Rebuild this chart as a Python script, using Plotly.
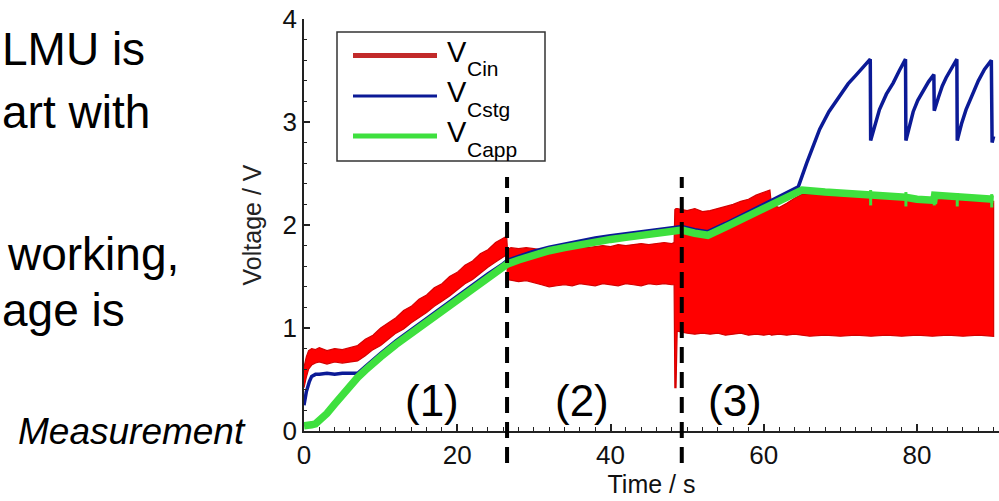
import plotly.graph_objects as go

# ---------------------------------------------------------------- data
# V_Cin : fast-switching input voltage, drawn as its upper / lower envelope
t_cin = [0, 0.3, 0.6, 1, 1.5, 2, 3, 4, 5, 6, 7, 8, 9, 10, 11, 12, 13, 14, 15, 16,
         17, 18, 19, 20, 21, 22, 23, 24, 25, 26, 26.45,
         26.55, 27, 28, 29, 30, 31, 32, 33, 34, 35, 36, 37, 38, 39, 40, 41, 42, 43,
         44, 45, 46, 47, 48, 48.3,
         48.4, 48.55, 48.7, 49.5, 50, 51, 52, 53, 54, 55, 56, 57, 58, 59, 60, 60.8,
         61, 62, 63, 64, 65, 66, 68, 70, 72, 74, 76, 78, 80, 82, 84, 86, 88, 90]
cin_hi = [0.62, 0.72, 0.78, 0.80, 0.79, 0.81, 0.78, 0.80, 0.79, 0.81, 0.83, 0.89, 0.93, 1.00, 1.05, 1.10, 1.17, 1.21, 1.28, 1.32,
          1.39, 1.43, 1.50, 1.54, 1.61, 1.65, 1.72, 1.76, 1.83, 1.87, 1.89,
          1.76, 1.78, 1.77, 1.78, 1.77, 1.76, 1.77, 1.78, 1.77, 1.78, 1.79, 1.78, 1.79, 1.80, 1.79, 1.81, 1.80, 1.81,
          1.82, 1.81, 1.82, 1.83, 1.82, 1.83,
          2.15, 2.16, 2.16, 2.15, 2.14, 2.16, 2.13, 2.14, 2.16, 2.18, 2.20, 2.23, 2.25, 2.29, 2.32, 2.34,
          2.20, 2.17, 2.21, 2.26, 2.30, 2.30, 2.29, 2.28, 2.28, 2.27, 2.27, 2.26, 2.23, 2.25, 2.25, 2.24, 2.23, 2.23]
cin_lo = [0.42, 0.52, 0.60, 0.64, 0.66, 0.67, 0.65, 0.67, 0.66, 0.67, 0.68, 0.73, 0.79, 0.83, 0.89, 0.95, 0.99, 1.05, 1.10, 1.15,
          1.21, 1.26, 1.31, 1.37, 1.43, 1.47, 1.53, 1.59, 1.64, 1.69, 1.71,
          1.47, 1.46, 1.45, 1.46, 1.44, 1.42, 1.40, 1.41, 1.42, 1.41, 1.43, 1.42, 1.41, 1.43, 1.42, 1.41, 1.43, 1.42,
          1.41, 1.43, 1.42, 1.43, 1.42, 1.42,
          0.42, 0.42, 0.97, 0.96, 0.95, 0.94, 0.95, 0.94, 0.95, 0.93, 0.94, 0.95, 0.93, 0.94, 0.93, 0.94,
          0.93, 0.94, 0.93, 0.94, 0.93, 0.92, 0.93, 0.92, 0.93, 0.92, 0.93, 0.92, 0.93, 0.92, 0.93, 0.92, 0.93, 0.92]

# V_Cstg : storage capacitor voltage
t_stg = [0, 0.3, 0.7, 1.0, 1.5, 2, 3, 4, 5, 6, 7, 8, 9, 10, 12, 14, 16, 18, 20, 22, 24, 26, 26.5,
         28, 30, 32, 34, 36, 38, 40, 42, 44, 46, 48, 49.3, 51, 52.7, 55, 58, 61, 64.5,
         65.6, 66.5, 67.3, 68.5, 69.9, 71.0, 72.1, 73.0, 73.9,
         73.95, 74.5, 75.1, 76.0, 76.9, 77.7, 78.5,
         78.55, 79.0, 79.5, 80.1, 80.8, 81.5, 82.2,
         82.25, 82.8, 83.3, 83.8, 84.3, 84.8, 85.2,
         85.25, 85.8, 86.4, 87.2, 88.0, 88.8, 89.7,
         89.8, 90]
v_stg = [0.25, 0.38, 0.48, 0.53, 0.55, 0.55, 0.56, 0.55, 0.56, 0.56, 0.56, 0.625, 0.695, 0.755, 0.875, 0.985, 1.095, 1.205, 1.315, 1.425, 1.525, 1.625, 1.655,
         1.695, 1.745, 1.785, 1.815, 1.845, 1.875, 1.895, 1.915, 1.935, 1.955, 1.975, 1.985, 1.955, 1.935, 2.015, 2.125, 2.235, 2.37,
         2.60, 2.78, 2.93, 3.10, 3.25, 3.37, 3.46, 3.54, 3.61,
         2.82, 2.98, 3.12, 3.27, 3.38, 3.50, 3.61,
         2.82, 2.97, 3.10, 3.21, 3.30, 3.39, 3.46,
         3.11, 3.24, 3.35, 3.43, 3.50, 3.57, 3.61,
         2.82, 2.98, 3.12, 3.27, 3.40, 3.51, 3.60,
         2.80, 2.86]

# V_Capp : application capacitor voltage
t_app = [0, 0.5, 1, 1.5, 2, 2.5, 3, 4, 5, 6, 7, 8, 9, 10, 12, 14, 16, 18, 20, 22, 24, 26, 26.5,
         28, 30, 32, 34, 36, 38, 40, 42, 44, 46, 48, 49.3, 51, 52.7, 55, 58, 61, 64.5, 65,
         68, 71, 73.9, 76, 78.5, 80, 82.2, 82.3, 84, 85.2, 87, 89.7, 90]
v_app = [0.05, 0.05, 0.06, 0.07, 0.10, 0.13, 0.17, 0.26, 0.35, 0.44, 0.52, 0.59, 0.66, 0.72, 0.84, 0.95, 1.06, 1.17, 1.28, 1.39, 1.49, 1.59, 1.62,
         1.66, 1.71, 1.75, 1.78, 1.81, 1.84, 1.86, 1.88, 1.90, 1.92, 1.94, 1.95, 1.92, 1.90, 1.98, 2.09, 2.20, 2.335, 2.34,
         2.32, 2.31, 2.30, 2.29, 2.27, 2.25, 2.24, 2.29, 2.28, 2.27, 2.26, 2.25, 2.25]
# short transients on V_Capp at each storage-capacitor discharge
t_app_glitch = [73.95, 78.55, 82.25, 85.25, 89.75]
app_glitch_hi = [2.34, 2.32, 2.31, 2.31, 2.30]
app_glitch_lo = [2.19, 2.18, 2.19, 2.18, 2.17]

# phase boundaries (s) and phase labels
phase_bounds = [26.5, 49.3]
phase_labels = ["(1)", "(2)", "(3)"]
phase_label_t = [16.7, 36.3, 56.2]
legend_names = ["Cin", "Cstg", "Capp"]

# ---------------------------------------------------------------- layout constants
W, H = 999, 501
M_L, M_R, M_T, M_B = 304, 0, 19, 70
X_RANGE = [0, 90.7]
Y_RANGE = [0, 4]
FONT = "Liberation Sans, Arial, sans-serif"
RED_FILL, RED_EDGE, RED_KEY = "#ff0000", "#d40000", "#c22a2a"
BLUE = "#0b1a96"
GREEN = "#3ee03e"


def px_x(px):
    return (px - M_L) / (W - M_L - M_R)


def px_y(py):
    return (H - M_B - py) / (H - M_T - M_B)


def t_to_paper(t):
    return (t - X_RANGE[0]) / (X_RANGE[1] - X_RANGE[0])


fig = go.Figure()

# input voltage envelope as one closed filled band
band_x = t_cin + t_cin[::-1]
band_y = cin_hi + cin_lo[::-1]
fig.add_trace(go.Scatter(x=band_x, y=band_y, mode="lines", fill="toself",
                         fillcolor=RED_FILL, line=dict(color=RED_EDGE, width=1.2),
                         name="V_Cin", showlegend=False, hoverinfo="skip"))
fig.add_trace(go.Scatter(x=t_stg, y=v_stg, mode="lines",
                         line=dict(color=BLUE, width=3.5), name="V_Cstg", showlegend=False))
fig.add_trace(go.Scatter(x=t_app, y=v_app, mode="lines",
                         line=dict(color=GREEN, width=7.5), name="V_Capp", showlegend=False))

# thin vertical glitch strokes on V_Capp
gx, gy = [], []
for tg, hi, lo in zip(t_app_glitch, app_glitch_hi, app_glitch_lo):
    gx += [tg, tg, None]
    gy += [hi, lo, None]
fig.add_trace(go.Scatter(x=gx, y=gy, mode="lines", line=dict(color=GREEN, width=3),
                         showlegend=False, hoverinfo="skip"))

shapes = []
annotations = []

# dashed phase separators, running a little below the time axis
for tb in phase_bounds:
    xp = t_to_paper(tb)
    shapes.append(dict(type="line", xref="paper", yref="paper", x0=xp, x1=xp,
                       y0=px_y(463), y1=px_y(177), layer="above",
                       line=dict(color="black", width=4, dash="16px,9px")))

for lab, tl in zip(phase_labels, phase_label_t):
    annotations.append(dict(x=tl, y=px_y(400), xref="x", yref="paper", text=lab,
                            showarrow=False, xanchor="center", yanchor="middle",
                            font=dict(family=FONT, size=44, color="black")))

# hand-drawn legend box
shapes.append(dict(type="rect", xref="paper", yref="paper",
                   x0=px_x(337), x1=px_x(545), y0=px_y(161), y1=px_y(32),
                   line=dict(color="#333333", width=1.5), fillcolor="white", layer="above"))
key_rows = [55.5, 96, 136]
key_colors = [RED_KEY, BLUE, GREEN]
key_widths = [5, 3, 5]
for name, ky, kc, kw in zip(legend_names, key_rows, key_colors, key_widths):
    shapes.append(dict(type="line", xref="paper", yref="paper",
                       x0=px_x(353), x1=px_x(437), y0=px_y(ky), y1=px_y(ky),
                       line=dict(color=kc, width=kw), layer="above"))
    annotations.append(dict(x=px_x(445), y=px_y(ky - 4), xref="paper", yref="paper",
                            text="V", showarrow=False, xanchor="left", yanchor="middle",
                            font=dict(family=FONT, size=29, color="black")))
    annotations.append(dict(x=px_x(465), y=px_y(ky + 13), xref="paper", yref="paper",
                            text=name, showarrow=False, xanchor="left", yanchor="middle",
                            font=dict(family=FONT, size=21, color="black")))

# slide text to the left of the chart
side_text = [("LMU is", 0, 49), ("art with", 0, 112), ("working,", 5, 254), ("age is", 0, 310)]
for txt, x0, yc in side_text:
    annotations.append(dict(x=px_x(x0), y=px_y(yc), xref="paper", yref="paper", text=txt,
                            showarrow=False, xanchor="left", yanchor="middle",
                            font=dict(family=FONT, size=46, color="black")))
annotations.append(dict(x=px_x(16), y=px_y(431), xref="paper", yref="paper",
                        text="<i>Measurement</i>", showarrow=False, xanchor="left", yanchor="middle",
                        font=dict(family=FONT, size=37, color="black")))

axis_common = dict(showline=True, linecolor="#222222", linewidth=1.5, ticks="inside",
                   tickcolor="#222222", tickwidth=1.5, showgrid=False, zeroline=False,
                   tickfont=dict(family=FONT, size=26, color="#111111"), mirror=False)

fig.update_layout(
    width=W, height=H,
    margin=dict(l=M_L, r=M_R, t=M_T, b=M_B, autoexpand=False),
    paper_bgcolor="white", plot_bgcolor="white",
    showlegend=False,
    font=dict(family=FONT),
    xaxis=dict(range=X_RANGE, dtick=20, tick0=0, ticklen=7,
               minor=dict(dtick=2, ticks="inside", ticklen=4, tickcolor="#222222", tickwidth=1),
               title=dict(text="Time / s", font=dict(family=FONT, size=25, color="#111111"), standoff=5),
               **axis_common),
    yaxis=dict(range=Y_RANGE, dtick=1, tick0=0, ticklen=6,
               minor=dict(dtick=0.2, ticks="inside", ticklen=3, tickcolor="#222222", tickwidth=1),
               title=dict(text="Voltage / V", font=dict(family=FONT, size=25, color="#222222"), standoff=14),
               **axis_common),
    shapes=shapes,
    annotations=annotations,
)

fig.write_html("out.html")
